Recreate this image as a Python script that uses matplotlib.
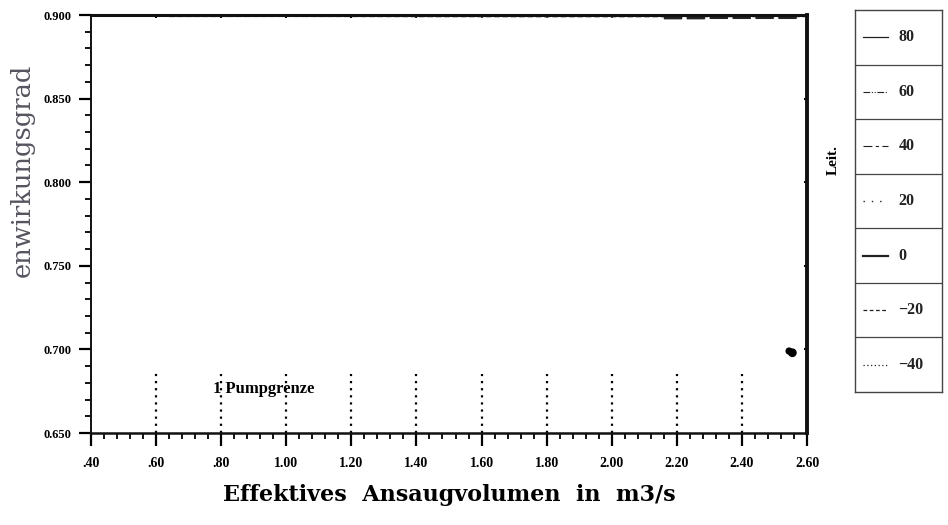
import matplotlib
matplotlib.use("Agg")
import matplotlib.pyplot as plt
from matplotlib.ticker import MultipleLocator, FixedLocator

# ---------------- data ----------------
x_ticks = [0.40, 0.60, 0.80, 1.00, 1.20, 1.40, 1.60, 1.80, 2.00, 2.20, 2.40, 2.60]
x_ticklabels = [".40", ".60", ".80", "1.00", "1.20", "1.40", "1.60", "1.80",
                "2.00", "2.20", "2.40", "2.60"]
y_ticks = [0.650, 0.700, 0.750, 0.800, 0.850, 0.900]
y_ticklabels = ["0.650", "0.700", "0.750", "0.800", "0.850", "0.900"]

# surge limit markers (Pumpgrenze), vertical dotted lines
surge_x = [0.60, 0.80, 1.00, 1.20, 1.40, 1.60, 1.80, 2.00, 2.20, 2.40]
surge_top = [0.6865, 0.685, 0.685, 0.685, 0.685, 0.685, 0.685, 0.685, 0.685, 0.685]

# efficiency curves that run along (and are clipped by) the top edge
curve_grey_x = [0.64, 1.00, 1.40, 1.80, 2.20, 2.60]
curve_grey_y = [0.8995, 0.8996, 0.8994, 0.8993, 0.8993, 0.8994]
curve_black_x = [2.16, 2.28, 2.30, 2.38, 2.40, 2.47, 2.51, 2.57]
curve_black_y = [0.8983, 0.8983, 0.8985, 0.8985, 0.8985, 0.8985, 0.8985, 0.8985]

# isolated point near the right edge
blob_x = [2.545, 2.555]
blob_y = [0.6990, 0.6980]

legend_labels = ["80", "60", "40", "20", "0", "\u221220", "\u221240"]
legend_styles = ["-", (0, (6, 1.5, 1, 1.5, 1, 1.5)), (0, (8, 3, 3, 3)),
                 (0, (1, 5)), "-", (0, (3, 2)), (0, (1, 2))]
legend_widths = [0.9, 0.8, 0.8, 1.0, 1.6, 0.9, 0.9]

# ---------------- figure ----------------
fig = plt.figure(figsize=(9.48, 5.25), dpi=100)
ax = fig.add_axes([91 / 948, 92 / 525, (807 - 91) / 948, (433 - 15) / 525])

ax.set_xlim(0.40, 2.60)
ax.set_ylim(0.650, 0.900)

ax.xaxis.set_major_locator(FixedLocator(x_ticks))
ax.set_xticklabels(x_ticklabels, family="Liberation Serif", weight="bold", size=10)
ax.xaxis.set_minor_locator(MultipleLocator(0.04))
ax.yaxis.set_major_locator(FixedLocator(y_ticks))
ax.set_yticklabels(y_ticklabels, family="Liberation Serif", weight="bold", size=9)
ax.yaxis.set_minor_locator(MultipleLocator(0.01))

ax.tick_params(which="major", direction="out", length=9, width=1.6, pad=8,
               top=False, right=False)
ax.tick_params(axis="y", which="major", pad=5)
ax.tick_params(which="minor", direction="out", length=4, width=1.3,
               top=False, right=False)

for side, lw in [("left", 1.4), ("bottom", 1.8), ("top", 2.2), ("right", 2.8)]:
    ax.spines[side].set_linewidth(lw)
    ax.spines[side].set_color("#111111")

# inward short ticks on top and right
sec_top = ax.secondary_xaxis("top")
sec_top.set_xticks(surge_x)
sec_top.tick_params(direction="in", length=2.5, width=1.5, labeltop=False)
sec_top.spines["top"].set_visible(False)
sec_right = ax.secondary_yaxis("right")
sec_right.set_yticks(y_ticks[1:-1])
sec_right.tick_params(direction="in", length=2.5, width=1.5, labelright=False)
sec_right.spines["right"].set_visible(False)

# curves near the top (clipped)
ax.plot(curve_grey_x, curve_grey_y, color="#8a8a8a", lw=2.0, ls=(0, (2, 1)),
        clip_on=True)
ax.plot(curve_black_x, curve_black_y, color="#222222", lw=2.2,
        ls=(0, (6, 1.5)), clip_on=True)

# surge limit dotted lines
for xs, yt in zip(surge_x, surge_top):
    ax.plot([xs, xs], [0.650, yt], color="black", lw=1.6, ls=(0, (1, 2.2)))

ax.text(0.775, 0.6765, "1 Pumpgrenze", fontsize=12, family="Liberation Serif",
        weight="bold", ha="left", va="center")

ax.scatter(blob_x, blob_y, s=[18, 28], color="black", marker="o", zorder=5)

ax.set_xlabel("Effektives  Ansaugvolumen  in  m3/s", family="DejaVu Serif",
              weight="bold", fontsize=16, labelpad=10)

fig.text(22 / 948, 1 - 170 / 525, "enwirkungsgrad", rotation=90,
         family="DejaVu Serif", fontsize=18.5, color="#555560",
         ha="center", va="center")

fig.text(833 / 948, 1 - 160 / 525, "Leit.", rotation=90,
         family="Liberation Serif", weight="bold", fontsize=11,
         ha="center", va="center")

# ---------------- legend boxes ----------------
lx0, lx1 = 855 / 948, 942 / 948
ly_top, ly_bot = 1 - 10 / 525, 1 - 392 / 525
lax = fig.add_axes([lx0, ly_bot, lx1 - lx0, ly_top - ly_bot])
n = len(legend_labels)
lax.set_xlim(0, 1)
lax.set_ylim(n, 0)
lax.set_xticks([])
lax.set_yticks([])
for s in lax.spines.values():
    s.set_linewidth(1.0)
    s.set_color("#444444")
for i in range(1, n):
    lax.axhline(i, color="#444444", lw=0.9)
for i, (lab, ls, lw) in enumerate(zip(legend_labels, legend_styles, legend_widths)):
    yc = i + 0.5
    lax.plot([0.09, 0.38], [yc, yc], color="#222222", lw=lw, ls=ls)
    lax.text(0.50, yc, lab, family="Liberation Serif", weight="bold",
             fontsize=11.5, ha="left", va="center", color="#222222")

fig.savefig("out.png", dpi=100)
